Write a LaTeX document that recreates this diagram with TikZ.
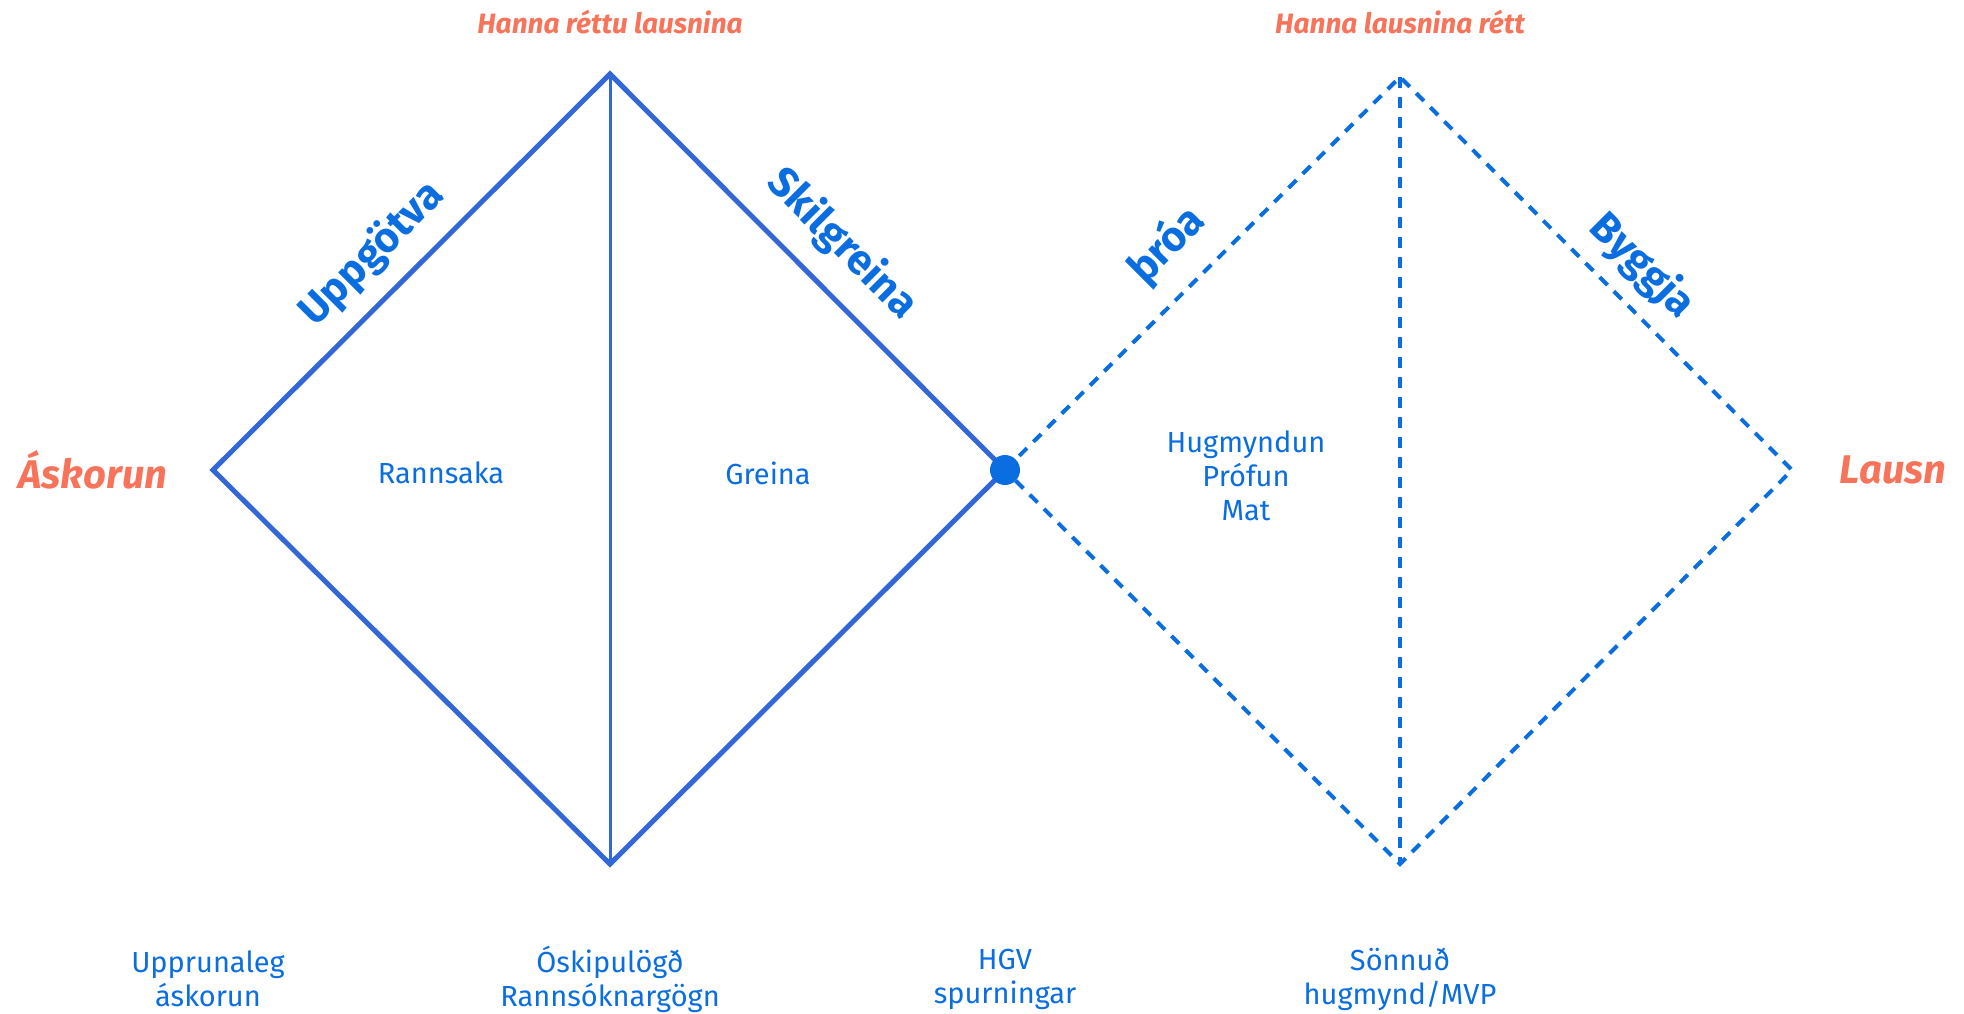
\documentclass[tikz,border=0pt]{standalone}
\usepackage{fontspec}
\setmainfont{Fira Sans}
\usetikzlibrary{positioning}
\definecolor{edgeblue}{HTML}{3366D6}
\definecolor{textblue}{HTML}{0A6EE0}
\definecolor{coral}{HTML}{F7735A}
\tikzset{
  solidedge/.style = {draw=edgeblue, line width=5pt, line join=miter},
  dashedge/.style  = {draw=textblue, line width=4pt, dash pattern=on 11pt off 9pt},
  steplbl/.style   = {text=textblue, font=\fontsize{29}{34}\selectfont, align=center},
  phaselbl/.style  = {text=textblue, font=\fontsize{42}{48}\selectfont\bfseries},
  goallbl/.style   = {text=coral, font=\fontsize{28}{32}\selectfont\bfseries\itshape},
  endlbl/.style    = {text=coral, font=\fontsize{40}{46}\selectfont\bfseries\itshape}
}

\begin{document}
\begin{tikzpicture}[x=1pt, y=-1pt]
    \useasboundingbox (0, 0) rectangle (1964, 1014);
    % diamond corners
    \coordinate (askL) at (213, 470);
    \coordinate (topL) at (610, 74);
    \coordinate (botL) at (610, 864);
    \coordinate (mid)  at (1005, 470);
    \coordinate (topR) at (1400, 77);
    \coordinate (botR) at (1400, 864);
    \coordinate (endR) at (1792, 470);

    % first diamond
    \draw [solidedge] (askL) -- (topL) -- (mid) -- (botL) -- cycle;
    \draw [draw=edgeblue, line width=3pt] (topL) -- (botL);
    % second diamond
    \draw [dashedge] (mid) -- (topR) -- (endR) -- (botR) -- cycle;
    \draw [dashedge] (topR) -- (botR);
    \fill [textblue] (mid) circle (15);

    \node (askorun) at (93, 470) [endlbl] {Áskorun};
    \node (lausn) at (1893, 470) [endlbl] {Lausn};
    \node (goalL) at (610, 22) [goallbl] {Hanna réttu lausnina};
    \node (goalR) at (1400, 22) [goallbl] {Hanna lausnina rétt};

    \node (uppg) at (372, 254) [phaselbl, rotate=45] {Uppgötva};
    \node (skil) at (842, 244) [phaselbl, rotate=-45] {Skilgreina};
    \node (throa) at (1167, 245) [phaselbl, rotate=45] {þróa};
    \node (byggja) at (1642, 266) [phaselbl, rotate=-45] {Byggja};

    \node (rann) at (441, 473) [steplbl] {Rannsaka};
    \node (grein) at (768, 473) [steplbl] {Greina};
    \node (hugm) at (1246, 476) [steplbl] {Hugmyndun\\Prófun\\Mat};

    \node (upphaf) at (208, 979) [steplbl] {Upprunaleg\\áskorun};
    \node (gogn) at (610, 979) [steplbl] {Óskipulögð\\Rannsóknargögn};
    \node (hgv) at (1005, 979) [steplbl] {HGV\\spurningar};
    \node (mvp) at (1400, 979) [steplbl] {Sönnuð\\hugmynd/MVP};
  \end{tikzpicture}
\end{document}
